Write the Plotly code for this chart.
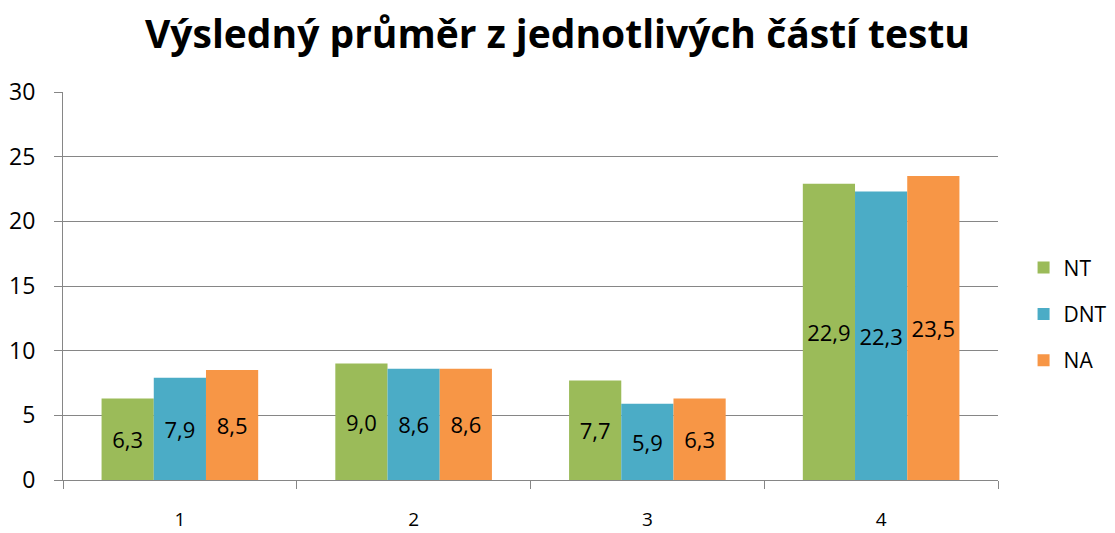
import plotly.graph_objects as go

categories = ["1", "2", "3", "4"]
nt = [6.3, 9.0, 7.7, 22.9]
dnt = [7.9, 8.6, 5.9, 22.3]
na = [8.5, 8.6, 6.3, 23.5]
series = [("NT", nt, "#9BBB59"), ("DNT", dnt, "#4BACC6"), ("NA", na, "#F79646")]

fig = go.Figure()
for name, vals, col in series:
    fig.add_trace(go.Bar(
        x=categories, y=vals, name=name, marker=dict(color=col, line=dict(width=0)),
        text=[f"{v:.1f}".replace(".", ",") for v in vals],
        textposition="inside", insidetextanchor="middle", textangle=0,
        textfont=dict(size=22, color="#000000", family="Open Sans"),
        legendgroup=name,
    ))

fig.update_layout(
    width=1115, height=533,
    margin=dict(l=63, r=117, t=92, b=53),
    paper_bgcolor="white", plot_bgcolor="white",
    title=dict(text="<b>Výsledný průměr z jednotlivých částí testu</b>", x=0.5, xanchor="center",
               y=0.935, yanchor="middle",
               font=dict(size=39, color="#000000", family="Open Sans")),
    barmode="group", bargap=0.33, bargroupgap=0,
    uniformtext=dict(minsize=10, mode="show"),
    legend=dict(xref="container", yref="container", x=0.918, y=0.411,
                xanchor="left", yanchor="middle",
                font=dict(size=21, color="#000000", family="Open Sans"),
                tracegroupgap=16, itemwidth=30),
    font=dict(family="Open Sans", color="#000000"),
)
fig.update_yaxes(range=[0, 30], dtick=5, showgrid=True, gridcolor="#868686", gridwidth=1,
                 showline=True, linecolor="#868686", ticks="outside", ticklen=8, tickcolor="#868686",
                 ticklabelstandoff=14, automargin=False,
                 tickfont=dict(size=23, color="#000000"), zeroline=False)
fig.update_xaxes(showline=True, linecolor="#868686", ticks="outside", tickson="boundaries",
                 ticklen=8, tickcolor="#868686", ticklabelstandoff=22, automargin=False,
                 tickfont=dict(size=19, color="#000000"))

fig.write_html("out.html", config={"displayModeBar": False},
               post_script="document.body.style.margin='0';document.body.style.overflow='hidden';")
